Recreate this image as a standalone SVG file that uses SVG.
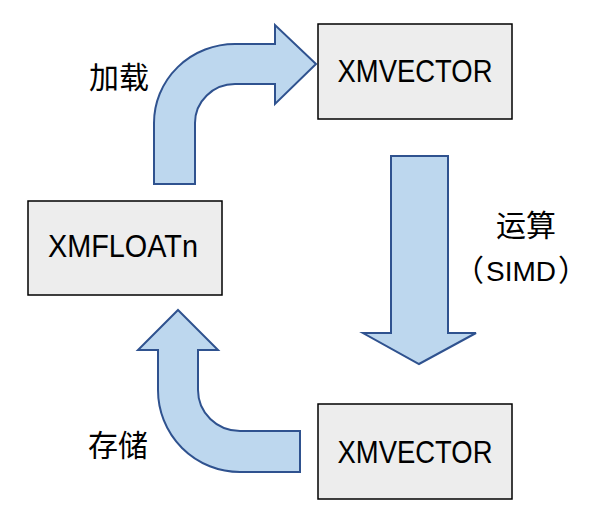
<svg xmlns="http://www.w3.org/2000/svg" width="589" height="514" viewBox="0 0 589 514">
<style>
.box{fill:#EDEDED;stroke:#000;stroke-width:1.5}
.arr{fill:#BDD7EE;stroke:#2F528F;stroke-width:2;stroke-linejoin:miter}
.lbl{font-family:"Liberation Sans","Noto Sans CJK SC",sans-serif;font-size:31px;fill:#000;text-anchor:middle}
.cjk{font-family:"Noto Sans CJK SC",sans-serif;font-size:30px;fill:#000;text-anchor:middle}
.simd{font-family:"Liberation Sans",sans-serif;font-size:28px}
</style>
<rect width="589" height="514" fill="#fff"/>
<g id="connectors">
<path id="load" class="arr" d="M154,184 L154,123 A81,79 0 0 1 235,44 L275,44 L275,25 L316,64 L275,104 L275,84 L235,84 A40,39 0 0 0 195,123 L195,184 Z"/>
<path id="compute" class="arr" d="M391,156 L448,156 L448,333 L476,333 L419,364 L363,333 L391,333 Z"/>
<path id="store" class="arr" d="M178,310 L218,350 L198,350 L198,390 A42,41 0 0 0 240,431 L300,431 L300,472 L240,472 A82,82 0 0 1 158,390 L158,350 L138,350 Z"/>
<text class="cjk" x="119" y="88">加载</text>
<text class="cjk" x="526" y="236">运算</text>
<text class="cjk" x="454" y="281" style="text-anchor:start">（<tspan class="simd" dx="2">SIMD</tspan><tspan dx="2">）</tspan></text>
<text class="cjk" x="118" y="456">存储</text>
</g>
<g id="xmvector-top">
<rect class="box" x="318" y="24" width="194" height="95"/>
<text class="lbl" x="415" y="82" textLength="155" lengthAdjust="spacingAndGlyphs">XMVECTOR</text>
</g>
<g id="xmfloatn">
<rect class="box" x="28" y="201" width="194" height="94"/>
<text class="lbl" x="123" y="257" textLength="150" lengthAdjust="spacingAndGlyphs">XMFLOATn</text>
</g>
<g id="xmvector-bottom">
<rect class="box" x="318" y="404" width="194" height="95"/>
<text class="lbl" x="415" y="463" textLength="155" lengthAdjust="spacingAndGlyphs">XMVECTOR</text>
</g>
</svg>
